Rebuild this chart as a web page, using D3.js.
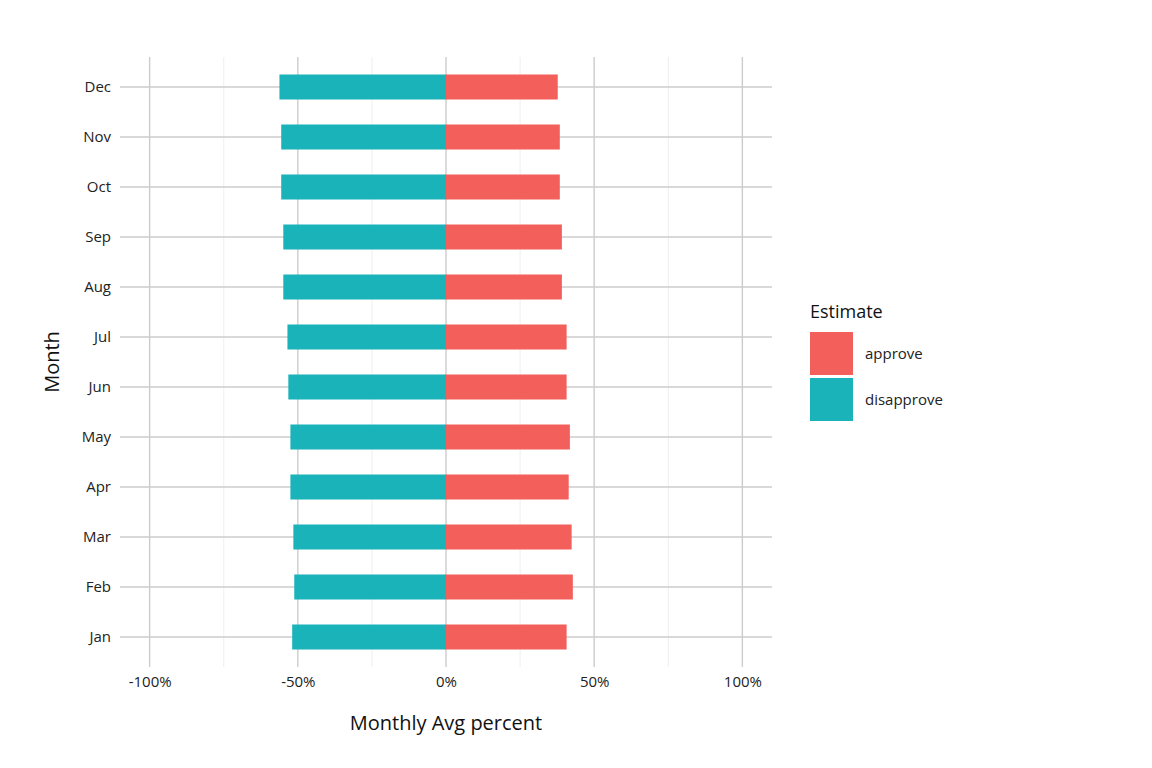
<!DOCTYPE html>
<html><head><meta charset="utf-8">
<script src="https://cdn.jsdelivr.net/npm/d3@7"></script>
<style>body{margin:0;background:#fff}text{font-family:"Open Sans",Lato,sans-serif}</style>
</head><body><svg id="c" width="1152" height="768"></svg>
<script>
const months=["Jan","Feb","Mar","Apr","May","Jun","Jul","Aug","Sep","Oct","Nov","Dec"];
const approve=[40.7,42.8,42.4,41.4,41.8,40.7,40.7,39.1,39.1,38.4,38.4,37.7];
const disapprove=[-51.9,-51.2,-51.5,-52.5,-52.5,-53.2,-53.5,-54.9,-54.9,-55.6,-55.6,-56.2];
const xTicks=[-100,-50,0,50,100];
const xMinor=[-75,-25,25,75];
const colors={approve:"#F35F5B",disapprove:"#19B3B9"};
const svg=d3.select("#c");
const L=120,R=772,T=57,B=667;
const x=d3.scaleLinear().domain([-110,110]).range([L,R]);
const y=d3.scaleBand().domain(months).range([B,T]).paddingInner(0.5).paddingOuter(0.35);
const g=svg.append("g");
g.selectAll(".mn").data(xMinor).join("line").attr("x1",d=>x(d)).attr("x2",d=>x(d)).attr("y1",T).attr("y2",B).attr("stroke","#ebebeb").attr("stroke-width",0.8);
g.selectAll(".mj").data(xTicks).join("line").attr("x1",d=>x(d)).attr("x2",d=>x(d)).attr("y1",T).attr("y2",B).attr("stroke","#cccccc").attr("stroke-width",1.4);
g.selectAll(".hy").data(months).join("line").attr("x1",L).attr("x2",R).attr("y1",d=>y(d)+y.bandwidth()/2).attr("y2",d=>y(d)+y.bandwidth()/2).attr("stroke","#cccccc").attr("stroke-width",1.4);
g.selectAll(".a").data(months).join("rect").attr("x",x(0)).attr("width",(d,i)=>x(approve[i])-x(0)).attr("y",d=>y(d)).attr("height",y.bandwidth()).attr("fill",colors.approve);
g.selectAll(".d").data(months).join("rect").attr("x",(d,i)=>x(disapprove[i])).attr("width",(d,i)=>x(0)-x(disapprove[i])).attr("y",d=>y(d)).attr("height",y.bandwidth()).attr("fill",colors.disapprove);
const xa=svg.append("g").attr("transform",`translate(0,${B+3})`).call(d3.axisBottom(x).tickValues(xTicks).tickFormat(d=>d+"%").tickSize(0));
xa.select(".domain").remove();xa.selectAll("text").attr("font-size",15).attr("fill","#222").attr("dy","0.9em");
const ya=svg.append("g").attr("transform",`translate(${L-6},0)`).call(d3.axisLeft(y).tickSize(0));
ya.select(".domain").remove();ya.selectAll("text").attr("font-size",15).attr("fill","#222").attr("dy","0.35em");
svg.append("text").attr("x",x(0)).attr("y",730).attr("text-anchor","middle").attr("font-size",20).attr("fill","#111").text("Monthly Avg percent");
svg.append("text").attr("transform",`translate(59,${(T+B)/2}) rotate(-90)`).attr("text-anchor","middle").attr("font-size",20).attr("fill","#111").text("Month");
const lg=svg.append("g").attr("transform","translate(810,0)");
lg.append("text").attr("x",0).attr("y",318).attr("font-size",18).attr("fill","#111").text("Estimate");
["approve","disapprove"].forEach((k,i)=>{
 lg.append("rect").attr("x",0).attr("y",332+i*46).attr("width",43).attr("height",43).attr("fill",colors[k]);
 lg.append("text").attr("x",55).attr("y",354+i*46).attr("dy","0.35em").attr("font-size",15).attr("fill","#222").text(k);
});
</script></body></html>
